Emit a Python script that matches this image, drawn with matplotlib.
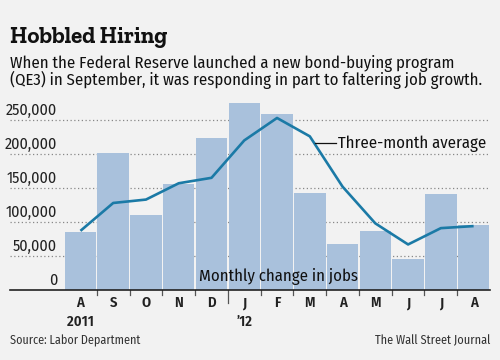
import numpy as np
import matplotlib
matplotlib.use("Agg")
import matplotlib.pyplot as plt
import matplotlib.transforms as mtransforms
from matplotlib import font_manager

months = ["A", "S", "O", "N", "D", "J", "F", "M", "A", "M", "J", "J", "A"]
monthly = [85000, 202000, 111000, 156000, 223000, 275000, 259000,
           143000, 68000, 87000, 45000, 141000, 96000]
avg3 = [87000, 128000, 133000, 157000, 165000, 220000, 253000,
        226000, 152000, 98000, 67000, 91000, 94000]
yticks = [0, 50000, 100000, 150000, 200000, 250000]
ytick_labels = ["0", "50,000", "100,000", "150,000", "200,000", "250,000"]

bg = "#f2f2f2"
bar_color = "#a9c1dc"
line_color = "#1b7aa6"
sans = ["Fira Sans Condensed", "Archivo Narrow", "DejaVu Sans"]

# pick a slab serif that really has a bold face installed
slab = "DejaVu Serif"
bold_names = {f.name for f in font_manager.fontManager.ttflist
              if isinstance(f.weight, int) and f.weight >= 700}
for cand in ["Zilla Slab", "Arvo", "Bitter", "Roboto Slab", "Noticia Text", "Crete Round"]:
    if cand in bold_names:
        slab = cand
        break

fig = plt.figure(figsize=(5, 3.6), dpi=100, facecolor=bg)
ax = fig.add_axes([0.02, 0.1944, 0.96, 0.5289])
ax.set_facecolor(bg)

x = np.arange(len(months))
ax.bar(x, monthly, width=0.96, color=bar_color, zorder=2)
ax.plot(x, avg3, color=line_color, lw=1.9, zorder=3, solid_capstyle="butt")

ax.set_xlim(-2.15, 12.5)
ax.set_ylim(0, 280000)

for s in ["top", "right", "left"]:
    ax.spines[s].set_visible(False)
ax.spines["bottom"].set_color("#222222")
ax.spines["bottom"].set_linewidth(1.2)
ax.spines["bottom"].set_zorder(4)

ax.set_yticks([])
trans = mtransforms.blended_transform_factory(ax.transAxes, ax.transData)
for v, lab in zip(yticks, ytick_labels):
    if v > 0:
        ax.axhline(v, color="#888888", lw=0.9, ls=(0, (1, 2)), zorder=1)
    ax.text(0.0985, v + 6700, lab, transform=trans, ha="right", va="baseline",
            fontsize=11.5, family=sans, color="#222222")

# month labels, ticks at the bar boundaries
ax.set_xticks([])
for i, m in enumerate(months):
    ax.text(i, -25000, m, ha="center", va="baseline", fontsize=10.5, family=sans,
            fontweight="semibold", color="#222222")
for b in np.arange(0.5, 12, 1.0):
    ln = 13 if b == 4.5 else 5
    ax.plot([b, b], [0, -ln * 1470], color="#555555", lw=0.9, clip_on=False, zorder=4)

ax.text(0, -53000, "2011", ha="center", va="baseline", fontsize=10.5, family=sans,
        fontweight="semibold", color="#222222")
ax.text(5, -53000, "\u201912", ha="center", va="baseline", fontsize=10.5, family=sans,
        fontweight="semibold", color="#222222")

ax.text(3.62, 13000, "Monthly change in jobs", ha="left", va="baseline", fontsize=12,
        family=sans, color="#111111", zorder=5)
ax.plot([7.16, 7.8], [215700, 215700], color="#111111", lw=0.9, zorder=5)
ax.text(7.86, 208400, "Three-month average", ha="left", va="baseline", fontsize=12,
        family=sans, color="#111111", zorder=5)

fig.text(0.02, 1 - 43 / 360, "Hobbled Hiring", fontsize=16.5, family=[slab, "DejaVu Serif"],
         fontweight="bold", color="#111111", va="baseline")
fig.text(0.02, 1 - 68 / 360, "When the Federal Reserve launched a new bond-buying program",
         fontsize=12, family=sans, color="#111111", va="baseline")
fig.text(0.02, 1 - 85 / 360, "(QE3) in September, it was responding in part to faltering job growth.",
         fontsize=12, family=sans, color="#111111", va="baseline")
fig.text(0.02, 1 - 344 / 360, "Source: Labor Department", fontsize=8.7, family=sans,
         color="#333333", va="baseline")
fig.text(0.98, 1 - 344 / 360, "The Wall Street Journal", fontsize=8.8, family=sans,
         color="#333333", va="baseline", ha="right")

fig.savefig("out.png", dpi=100, facecolor=bg)
